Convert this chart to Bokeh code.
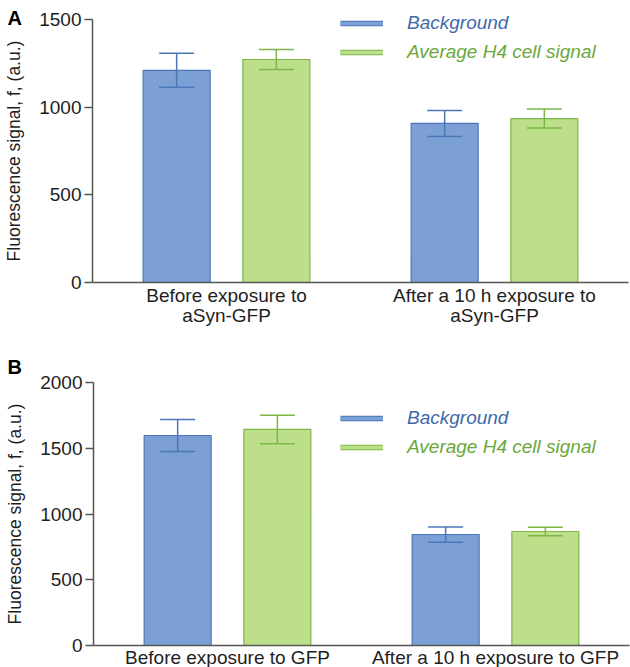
from bokeh.plotting import figure
from bokeh.models import (ColumnDataSource, Range1d, FixedTicker, Whisker, TeeHead,
                          Legend, LegendItem, Label)
from bokeh.layouts import column
from bokeh.embed import file_html
from bokeh.resources import INLINE

# ---------------- data ----------------
series_names = ["Background", "Average H4 cell signal"]

cats_a = ["Before exposure to\naSyn-GFP", "After a 10 h exposure to\naSyn-GFP"]
bg_a = [1210, 907]
bg_a_err = [97, 74]
h4_a = [1272, 935]
h4_a_err = [57, 54]
ticks_a = [0, 500, 1000, 1500]
ymax_a = 1500

cats_b = ["Before exposure to GFP", "After a 10 h exposure to GFP"]
bg_b = [1597, 844]
bg_b_err = [122, 58]
h4_b = [1643, 867]
h4_b_err = [108, 33]
ticks_b = [0, 500, 1000, 1500, 2000]
ymax_b = 2000

y_label = "Fluorescence signal, f, (a.u.)"

# ---------------- style ----------------
FONT = "Liberation Sans"
BLUE_FILL = "#7ca0d5"
BLUE_LINE = "#4b76b8"
GREEN_FILL = "#bddf8b"
GREEN_LINE = "#7db747"
BLUE_TEXT = "#3f69ab"
GREEN_TEXT = "#6aa83b"
AXIS_COL = "#555555"
TEXT_COL = "#1e1e1e"
OFF = 0.186
BAR_W = 0.25


def make_panel(cats, bg, bg_err, h4, h4_err, ticks, ymax, letter,
               W, H, ax_l, ax_r, ax_t, ax_b, leg_x, leg_centers, letter_base,
               xl_standoff):
    n = len(cats)
    upx = (ax_r - ax_l) / n                 # pixels per category
    ypx = (ax_b - ax_t) / ymax              # pixels per unit
    xr = Range1d(-ax_l / upx, (W - ax_l) / upx)
    yr = Range1d(-(H - ax_b) / ypx, ymax + ax_t / ypx)
    p = figure(width=W, height=H, output_backend="svg", toolbar_location=None,
               title=None, x_range=xr, y_range=yr, min_border=0)
    p.outline_line_color = None
    p.xgrid.grid_line_color = None
    p.ygrid.grid_line_color = None

    centers = [i + 0.5 for i in range(n)]
    src = ColumnDataSource(dict(
        xb=[c - OFF for c in centers], xg=[c + OFF for c in centers],
        bg=bg, h4=h4,
        bg_up=[v + e for v, e in zip(bg, bg_err)],
        bg_lo=[v - e for v, e in zip(bg, bg_err)],
        h4_up=[v + e for v, e in zip(h4, h4_err)],
        h4_lo=[v - e for v, e in zip(h4, h4_err)],
    ))

    p.vbar(x="xb", top="bg", width=BAR_W, source=src,
           fill_color=BLUE_FILL, line_color=BLUE_LINE, line_width=1.2)
    p.vbar(x="xg", top="h4", width=BAR_W, source=src,
           fill_color=GREEN_FILL, line_color=GREEN_LINE, line_width=1.2)

    for base, up, lo, col in (("xb", "bg_up", "bg_lo", BLUE_LINE),
                              ("xg", "h4_up", "h4_lo", GREEN_LINE)):
        p.add_layout(Whisker(base=base, upper=up, lower=lo, source=src,
                             line_color=col, line_width=1.5, level="overlay",
                             upper_head=TeeHead(size=35, line_color=col, line_width=1.5),
                             lower_head=TeeHead(size=35, line_color=col, line_width=1.5)))

    # y axis
    ya = p.yaxis[0]
    ya.fixed_location = 0
    ya.bounds = (0, ymax)
    ya.ticker = FixedTicker(ticks=ticks)
    ya.minor_tick_line_color = None
    ya.major_tick_in = 0
    ya.major_tick_out = 8
    ya.major_label_standoff = 3
    ya.axis_line_color = AXIS_COL
    ya.axis_line_width = 1.5
    ya.major_tick_line_color = AXIS_COL
    ya.major_tick_line_width = 1.5
    ya.major_label_text_font = FONT
    ya.major_label_text_font_size = "19px"
    ya.major_label_text_color = TEXT_COL
    ya.axis_label = y_label
    ya.axis_label_text_font = FONT
    ya.axis_label_text_font_size = "17.5px"
    ya.axis_label_text_font_style = "normal"
    ya.axis_label_text_color = TEXT_COL
    ya.axis_label_standoff = 12

    # x axis
    xa = p.xaxis[0]
    xa.fixed_location = 0
    xa.bounds = (0, n)
    xa.ticker = FixedTicker(ticks=centers)
    xa.major_label_overrides = {c: lab for c, lab in zip(centers, cats)}
    xa.major_tick_line_color = None
    xa.minor_tick_line_color = None
    xa.major_tick_out = 0
    xa.major_tick_in = 0
    xa.major_label_standoff = xl_standoff
    xa.axis_line_color = AXIS_COL
    xa.axis_line_width = 1.5
    xa.major_label_text_font = FONT
    xa.major_label_text_font_size = "19px"
    xa.major_label_text_line_height = 0.98
    xa.major_label_text_color = TEXT_COL

    # legend: two single-item legends (each label has its own colour)
    lsrc = ColumnDataSource(dict(x=centers[:1], y=[0]))
    item_h = 22
    for name, fill, line, tcol, cy in zip(series_names, (BLUE_FILL, GREEN_FILL),
                                          (BLUE_LINE, GREEN_LINE),
                                          (BLUE_TEXT, GREEN_TEXT), leg_centers):
        r1 = p.line(x="x", y="y", source=lsrc, line_color=line, line_width=5.5)
        r2 = p.line(x="x", y="y", source=lsrc, line_color=fill, line_width=3.5)
        leg = Legend(items=[LegendItem(label=name, renderers=[r1, r2])],
                     location=(leg_x, H - (cy + item_h / 2)), padding=0, margin=0,
                     border_line_color=None, background_fill_alpha=0,
                     glyph_width=43, glyph_height=item_h, label_height=item_h,
                     label_standoff=24, label_text_font=FONT,
                     label_text_font_size="19px", label_text_font_style="italic",
                     label_text_color=tcol)
        p.add_layout(leg)

    p.add_layout(Label(x=7, y=H - letter_base, x_units="screen", y_units="screen",
                       text=letter, text_font=FONT, text_font_style="bold",
                       text_font_size="20px", text_color="#000000",
                       text_baseline="alphabetic", text_align="left"))
    return p


pa = make_panel(cats_a, bg_a, bg_a_err, h4_a, h4_a_err, ticks_a, ymax_a, "A",
                W=630, H=330, ax_l=92, ax_r=628, ax_t=19, ax_b=282,
                leg_x=340, leg_centers=(23, 52), letter_base=17, xl_standoff=2)
pb = make_panel(cats_b, bg_b, bg_b_err, h4_b, h4_b_err, ticks_b, ymax_b, "B",
                W=630, H=337, ax_l=93, ax_r=629, ax_t=52, ax_b=315,
                leg_x=340, leg_centers=(88, 117), letter_base=36, xl_standoff=1)

layout = column(pa, pb, spacing=0)
open("out.html", "w").write(file_html(layout, INLINE))
